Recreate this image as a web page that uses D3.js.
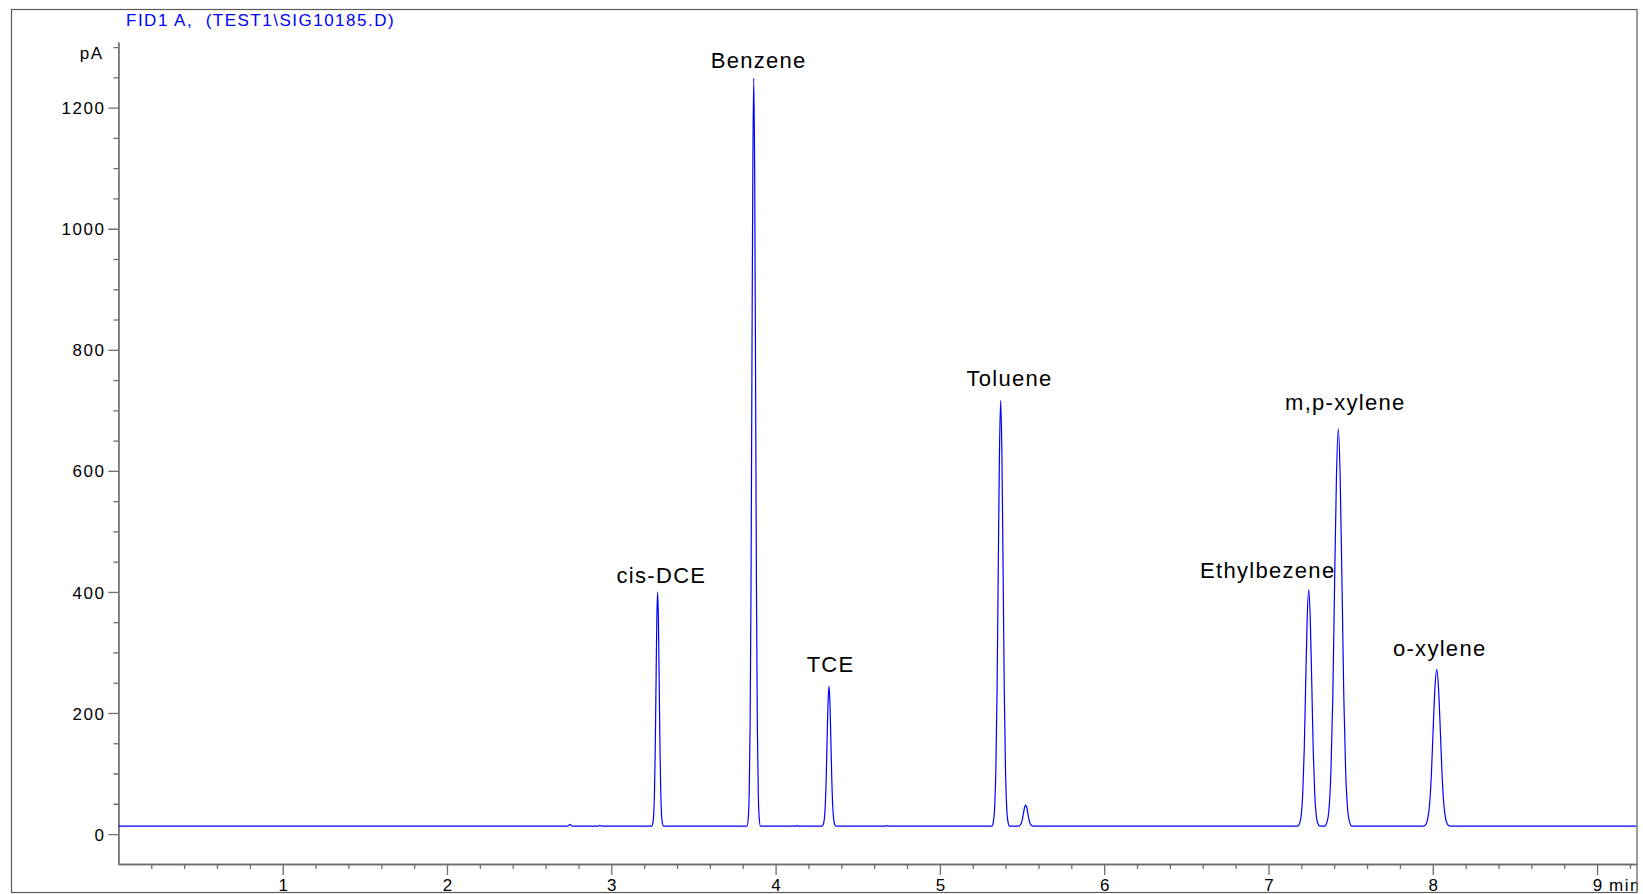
<!DOCTYPE html>
<html lang="en">
    <head>
        <meta charset="utf-8">
        <title>FID1 A chromatogram</title>
        <script type="text/javascript" src="https://cdn.jsdelivr.net/npm/d3@7"></script>
        <style>
            body { margin: 0; background: #fff; }
            svg text { font-family: "Liberation Sans", Arial, sans-serif; }
        </style>
    </head>
    <body>
        <script type="text/javascript">
            // tick values
            var yTickValues = [0, 200, 400, 600, 800, 1000, 1200];
            var xTickValues = [1, 2, 3, 4, 5, 6, 7, 8, 9];

            // named peaks: retention time (min) and apex height (pA)
            var peakNames = ["cis-DCE", "Benzene", "TCE", "Toluene", "Ethylbezene", "m,p-xylene", "o-xylene"];
            var peakTimes = [3.282, 3.867, 4.325, 5.370, 7.245, 7.425, 8.024];
            var peakHeights = [400, 1248.5, 244.5, 716, 404, 670, 272];

            // detector trace, [time min, signal pA]
            var signal = [
                [0, 13], [2.735, 13], [2.749, 15.8], [2.763, 13],
                [2.92, 13], [2.93, 14.2], [2.94, 13],
                // cis-DCE
                [3.2461, 13], [3.2529, 17.6], [3.2577, 30.4], [3.2626, 65.2], [3.2674, 136.8], [3.2723, 249.1], [3.2771, 353.6],
                [3.282, 400], [3.2869, 353.6], [3.2917, 249.1], [3.2966, 136.8], [3.3014, 65.2], [3.3063, 30.4], [3.3111, 17.6], [3.3179, 13],
                // benzene
                [3.8263, 13], [3.834, 27.8], [3.8395, 68.6], [3.845, 179.8], [3.8505, 408.4], [3.856, 766.7], [3.8615, 1100.2],
                [3.867, 1248.5], [3.8725, 1100.2], [3.878, 766.7], [3.8835, 408.4], [3.889, 179.8], [3.8945, 68.6], [3.9, 27.8], [3.9077, 13],
                [4.12, 13], [4.13, 14], [4.14, 13],
                // TCE
                [4.2821, 13], [4.2902, 15.8], [4.296, 23.4], [4.3018, 44.3], [4.3076, 87.1], [4.3134, 154.2], [4.3192, 216.7],
                [4.325, 244.5], [4.3308, 216.7], [4.3366, 154.2], [4.3424, 87.1], [4.3482, 44.3], [4.354, 23.4], [4.3598, 15.8], [4.3679, 13],
                [4.67, 13], [4.68, 14], [4.69, 13],
                // toluene
                [5.316, 13], [5.3262, 21.4], [5.3335, 44.6], [5.3408, 107.9], [5.3481, 238], [5.3554, 441.8], [5.3627, 631.6],
                [5.37, 716], [5.3773, 631.6], [5.3846, 441.8], [5.3919, 238], [5.3992, 107.9], [5.4065, 44.6], [5.4138, 21.4], [5.424, 13],
                // small unnamed peak
                [5.4724, 13], [5.4818, 13.4], [5.4885, 14.6], [5.4952, 17.7], [5.5019, 24.2], [5.5086, 34.4], [5.5153, 43.8],
                [5.522, 48], [5.5287, 43.8], [5.5354, 34.4], [5.5421, 24.2], [5.5488, 17.7], [5.5555, 14.6], [5.5622, 13.4], [5.5716, 13],
                // ethylbenzene
                [7.1773, 13], [7.1901, 17.7], [7.1992, 30.6], [7.2084, 65.8], [7.2175, 138.1], [7.2267, 251.5], [7.2358, 357.1],
                [7.245, 404], [7.2542, 357.1], [7.2633, 251.5], [7.2725, 138.1], [7.2816, 65.8], [7.2908, 30.6], [7.2999, 17.7], [7.3127, 13],
                // m,p-xylene
                [7.3417, 13], [7.3575, 20.9], [7.3688, 42.6], [7.38, 101.7], [7.3913, 223.2], [7.4025, 413.8], [7.4138, 591.2],
                [7.425, 670], [7.4363, 591.2], [7.4475, 413.8], [7.4588, 223.2], [7.47, 101.7], [7.4813, 42.6], [7.4925, 20.9], [7.5083, 13],
                // o-xylene
                [7.943, 13], [7.9583, 16.1], [7.9691, 24.7], [7.9802, 48], [7.9911, 95.9], [8.0021, 171], [8.013, 240.9],
                [8.024, 272], [8.035, 240.9], [8.0459, 171], [8.0569, 95.9], [8.0678, 48], [8.0788, 24.7], [8.0897, 16.1], [8.105, 13],
                [9.24, 13]
            ];

            var w = 1643;
            var h = 894;

            // plot box
            var plotLeft = 118.4, plotRight = 1636.5, plotTop = 42, plotBottom = 864;

            var xScale = d3.scaleLinear()
                            .domain([0, 9.24])
                            .range([plotLeft, plotRight]);

            var yScale = d3.scaleLinear()
                            .domain([-49.5, 1308.5])
                            .range([plotBottom, plotTop]);

            // label nudges so the names sit where the original put them
            var labelNudge = {
                "cis-DCE": [3.8, -9.2],
                "Benzene": [4.9, -10],
                "TCE": [1.6, -14.3],
                "Toluene": [8.9, -15],
                "Ethylbezene": [-41, -11.2],
                "m,p-xylene": [7, -18.5],
                "o-xylene": [3, -13.1]
            };

            var svg = d3.select("body")
                        .append("svg")
                        .attr("width", w)
                        .attr("height", h);

            svg.append("clipPath")
                .attr("id", "frameClip")
                .append("rect")
                .attr("x", 11)
                .attr("y", 9)
                .attr("width", 1626.5)
                .attr("height", 884.5);

            var g = svg.append("g").attr("clip-path", "url(#frameClip)");

            // title
            g.append("text")
                .attr("x", 126)
                .attr("y", 26)
                .attr("font-size", "17px")
                .attr("letter-spacing", "1.5px")
                .attr("fill", "#0000ff")
                .attr("xml:space", "preserve")
                .style("white-space", "pre")
                .text("FID1 A,  (TEST1\\SIG10185.D)");

            // Y axis, major and minor ticks
            var yMinor = d3.range(50, 1301, 50).filter(function(d){ return d % 200 !== 0; });

            g.append("g")
                .attr("transform", "translate(" + plotLeft + ",0)")
                .call(d3.axisLeft(yScale).tickValues(yMinor).tickSize(5).tickSizeOuter(0).tickFormat(""));

            var yAxis = g.append("g")
                .attr("transform", "translate(" + plotLeft + ",0)")
                .call(d3.axisLeft(yScale).tickValues(yTickValues).tickSize(10).tickSizeOuter(0).tickPadding(3).tickFormat(d3.format("d")));

            yAxis.selectAll("text")
                .attr("font-size", "17px")
                .attr("letter-spacing", "1.5px")
                .attr("dy", "0.36em")
                .attr("fill", "#000");

            // X axis
            var xMinor = d3.range(0.2, 9.21, 0.2).filter(function(d){ return Math.abs(d - Math.round(d)) > 0.01; });

            g.append("g")
                .attr("transform", "translate(0," + plotBottom + ")")
                .call(d3.axisBottom(xScale).tickValues(xMinor).tickSize(5).tickSizeOuter(0).tickFormat(""));

            var xAxis = g.append("g")
                .attr("transform", "translate(0," + plotBottom + ")")
                .call(d3.axisBottom(xScale).tickValues(xTickValues).tickSize(11).tickSizeOuter(0).tickPadding(4).tickFormat(d3.format("d")));

            xAxis.selectAll("text")
                .attr("font-size", "17px")
                .attr("letter-spacing", "1.5px")
                .attr("dx", "0.75")
                .attr("fill", "#000");

            g.selectAll(".domain, .tick line")
                .attr("stroke", "#6e6e6e")
                .attr("stroke-width", 1.3);

            // units
            g.append("text")
                .attr("x", 103.5)
                .attr("y", 59)
                .attr("text-anchor", "end")
                .attr("font-size", "17px")
                .attr("letter-spacing", "1.5px")
                .text("pA");

            g.append("text")
                .attr("x", xScale(9) + 12)
                .attr("y", 891)
                .attr("font-size", "17px")
                .attr("letter-spacing", "1.5px")
                .text("min");

            // trace
            var line = d3.line()
                        .x(function(d){ return xScale(d[0]); })
                        .y(function(d){ return yScale(d[1]); })
                        .curve(d3.curveMonotoneX);

            g.append("path")
                .datum(signal)
                .attr("d", line)
                .attr("fill", "none")
                .attr("stroke", "#0000ff")
                .attr("stroke-width", 1.2);

            // peak names
            g.selectAll("text.peak")
                .data(peakNames)
                .enter()
                .append("text")
                .attr("class", "peak")
                .attr("x", function(d, i){ return xScale(peakTimes[i]) + labelNudge[d][0]; })
                .attr("y", function(d, i){ return yScale(peakHeights[i]) + labelNudge[d][1]; })
                .attr("text-anchor", "middle")
                .attr("font-size", "22px")
                .attr("letter-spacing", "1.3px")
                .attr("fill", "#000")
                .text(function(d){ return d; });

            // outer frame
            svg.append("rect")
                .attr("x", 11.5)
                .attr("y", 9.5)
                .attr("width", 1625.5)
                .attr("height", 883)
                .attr("fill", "none")
                .attr("stroke", "#5a5a5a")
                .attr("stroke-width", 1.2);
        </script>
    </body>
</html>
